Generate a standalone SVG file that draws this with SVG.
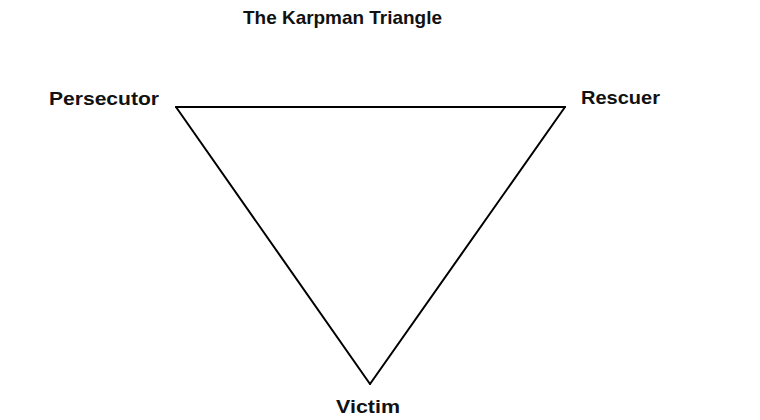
<svg xmlns="http://www.w3.org/2000/svg" width="760" height="420" viewBox="0 0 760 420">
<style>
.lbl{font-family:"Liberation Sans",Arial,sans-serif;font-weight:bold;font-size:19px;fill:#111}
.edge{stroke:#000;stroke-width:2;fill:none;stroke-linecap:round}
</style>
<rect width="760" height="420" fill="#fff"/>
<text class="lbl" x="243" y="24" textLength="199" lengthAdjust="spacingAndGlyphs">The Karpman Triangle</text>
<g id="connectors">
<line class="edge" x1="176" y1="107" x2="565" y2="107"/>
<line class="edge" x1="176" y1="107" x2="370" y2="384"/>
<line class="edge" x1="565" y1="107" x2="370" y2="384"/>
</g>
<g id="persecutor"><text class="lbl" x="49" y="105" textLength="110" lengthAdjust="spacingAndGlyphs">Persecutor</text></g>
<g id="rescuer"><text class="lbl" x="581" y="104" textLength="79" lengthAdjust="spacingAndGlyphs">Rescuer</text></g>
<g id="victim"><text class="lbl" x="336" y="413" textLength="64" lengthAdjust="spacingAndGlyphs">Victim</text></g>
</svg>
